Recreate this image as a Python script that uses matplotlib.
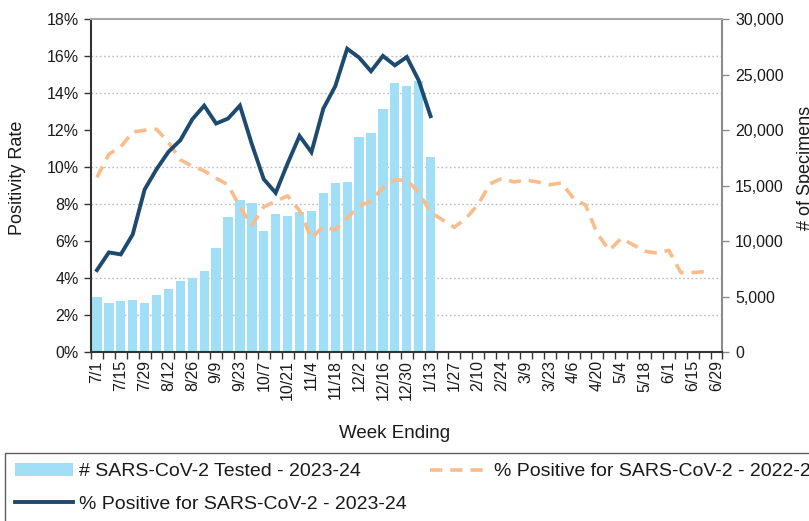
import numpy as np
import matplotlib
matplotlib.use("Agg")
import matplotlib.pyplot as plt
from matplotlib.patches import Patch
from matplotlib.lines import Line2D
from matplotlib.ticker import FuncFormatter

plt.rcParams['font.family'] = ['Liberation Sans', 'DejaVu Sans']

weeks = ["7/1", "7/8", "7/15", "7/22", "7/29", "8/5", "8/12", "8/19", "8/26",
         "9/2", "9/9", "9/16", "9/23", "9/30", "10/7", "10/14", "10/21", "10/28",
         "11/4", "11/11", "11/18", "11/25", "12/2", "12/9", "12/16", "12/23", "12/30",
         "1/6", "1/13", "1/20", "1/27", "2/3", "2/10", "2/17", "2/24",
         "3/2", "3/9", "3/16", "3/23", "3/30", "4/6", "4/13", "4/20", "4/27",
         "5/4", "5/11", "5/18", "5/25", "6/1", "6/8", "6/15", "6/22", "6/29"]

tested_2324 = [4950, 4440, 4560, 4650, 4440, 5130, 5680, 6430, 6640, 7300,
               9400, 12160, 13690, 13420, 10930, 12460, 12250, 12610, 12730, 14350,
               15220, 15310, 19400, 19760, 21950, 24230, 23960, 24410, 17600]

pos_2324 = [4.43, 5.39, 5.28, 6.36, 8.79, 9.89, 10.83, 11.46, 12.59, 13.33,
            12.36, 12.63, 13.33, 11.24, 9.35, 8.61, 10.2, 11.69, 10.81, 13.17,
            14.38, 16.41, 15.93, 15.19, 16.02, 15.51, 15.96, 14.7, 12.76]

pos_2223 = [9.45, 10.7, 11.1, 11.9, 12.0, 12.05, 11.35, 10.4, 10.05, 9.8,
            9.4, 9.05, 7.85, 6.85, 7.85, 8.15, 8.45, 7.65, 6.15, 6.8,
            6.6, 7.25, 7.9, 8.15, 8.9, 9.3, 9.3, 8.65, 7.55, 7.15,
            6.75, 7.25, 8.0, 9.1, 9.4, 9.2, 9.3, 9.2, 9.05, 9.15,
            8.3, 7.95, 6.4, 5.5, 6.15, 5.8, 5.45, 5.35, 5.5, 4.3,
            4.3, 4.35]

left_ticks = [0, 2, 4, 6, 8, 10, 12, 14, 16, 18]
right_ticks = [0, 5000, 10000, 15000, 20000, 25000, 30000]

BAR = '#A0DFF6'
DARK = '#1D4A6E'
ORANGE = '#F9BC8C'
TXT = '#1a1a1a'

fig = plt.figure(figsize=(8.09, 5.21), dpi=100)
ax = fig.add_axes([91 / 809, 1 - 352 / 521, (722.5 - 91) / 809, (352 - 19.3) / 521])
ax2 = ax.twinx()

x = np.arange(len(weeks))

# bars on right axis (drawn below)
ax2.bar(x[:len(tested_2324)], tested_2324, width=0.78, color=BAR, zorder=2)
ax2.set_ylim(0, right_ticks[-1])
ax2.set_yticks(right_ticks)
ax2.yaxis.set_major_formatter(FuncFormatter(lambda v, p: f"{int(v):,}"))
grid_pos = [t / left_ticks[-1] * right_ticks[-1] for t in left_ticks[1:-1]]
ax2.set_yticks(grid_pos, minor=True)
ax2.yaxis.grid(True, which='minor', linestyle=(0, (1.2, 1.8)), color='#BDBDBD', linewidth=1.0)
ax2.set_axisbelow(True)
ax2.tick_params(axis='y', which='minor', length=0)
ax2.tick_params(axis='y', which='major', direction='out', length=5, width=1,
                color='#8C8C8C', labelsize=11.5, labelcolor=TXT, pad=4)
for s in ['left', 'top', 'bottom']:
    ax2.spines[s].set_visible(False)
ax2.spines['right'].set_color('#8C8C8C')
ax2.spines['right'].set_linewidth(1.5)

# lines on left axis (drawn on top)
ax.set_zorder(ax2.get_zorder() + 1)
ax.patch.set_visible(False)
ax.plot(x[:len(pos_2223)], pos_2223, color=ORANGE, lw=2.6, dashes=(3.4, 2.2), zorder=3)
ax.plot(x[:len(pos_2324)], pos_2324, color=DARK, lw=2.8, zorder=4,
        solid_joinstyle='miter')
ax.set_ylim(0, left_ticks[-1])
ax.set_yticks(left_ticks)
ax.yaxis.set_major_formatter(FuncFormatter(lambda v, p: f"{int(v)}%"))
ax.set_xlim(-0.5, len(weeks) - 0.5)
ax.set_xticks(np.arange(-0.5, len(weeks), 1))
ax.set_xticklabels([])
ax.set_xticks(x[::2], minor=True)
ax.set_xticklabels(weeks[::2], minor=True, rotation=90, fontsize=11.5, color=TXT)
ax.tick_params(axis='x', which='major', direction='out', length=5, width=1, color='#333333')
ax.tick_params(axis='x', which='minor', length=0, pad=6)
ax.tick_params(axis='y', which='major', direction='out', length=5, width=1,
               color='#333333', labelsize=11.5, labelcolor=TXT, pad=4)
ax.spines['right'].set_visible(False)
ax.spines['top'].set_color('#A6A6A6')
ax.spines['top'].set_linewidth(1.5)
ax.spines['left'].set_color('#333333')
ax.spines['left'].set_linewidth(1.5)
ax.spines['bottom'].set_color('#333333')
ax.spines['bottom'].set_linewidth(1.5)

fig.text(18 / 809, 1 - 178 / 521, "Positivity Rate", rotation=90, ha='center', va='center',
         fontsize=13, color=TXT)
fig.text(797 / 809, 1 - 168 / 521, "# of Specimens", rotation=90, ha='left', va='center',
         fontsize=13, color=TXT)
fig.text(394.5 / 809, 1 - 434 / 521, "Week Ending", ha='center', va='center',
         fontsize=13.5, color=TXT)

handles = [Patch(facecolor=BAR, edgecolor='none'),
           Line2D([0], [0], color=DARK, lw=2.8),
           Line2D([0], [0], color=ORANGE, lw=2.6, dashes=(3.4, 2.2))]
labels = ["# SARS-CoV-2 Tested - 2023-24",
          "% Positive for SARS-CoV-2 - 2023-24",
          "% Positive for SARS-CoV-2 - 2022-23"]
leg = fig.legend(handles, labels, loc='upper left', bbox_to_anchor=(5 / 809, 1 - 453 / 521),
                 ncol=2, frameon=True, fancybox=False, edgecolor='#333333', fontsize=14,
                 handlelength=3.0, handletextpad=0.3, columnspacing=1.2, labelspacing=0.75,
                 borderpad=0.5, borderaxespad=0)
leg.get_frame().set_linewidth(1.0)
for t in leg.get_texts():
    t.set_color(TXT)

fig.savefig("out.png", dpi=100)
